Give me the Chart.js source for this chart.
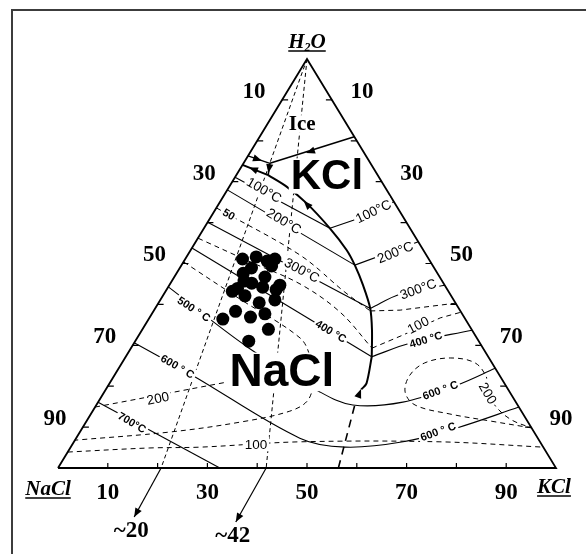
<!DOCTYPE html>
<html>
<head>
<meta charset="utf-8">
<script src="https://cdn.jsdelivr.net/npm/chart.js"></script>
<style>
  html, body { margin: 0; padding: 0; background: #fff; }
  #wrap { position: relative; width: 586px; height: 554px; overflow: hidden; }
  #frame { position: absolute; left: 11px; top: 9px; width: 600px; height: 600px;
           border-top: 2px solid #3c3c3c; border-left: 2px solid #3c3c3c; }
  canvas { position: absolute; left: 0; top: 0; }
</style>
</head>
<body>
<div id="wrap"><div id="frame"></div><canvas id="chart" width="586" height="554"></canvas></div>
<script>
// Every composition is a pair [KCl wt%, H2O wt%]; NaCl makes up the rest.
const triangle = [[0, 0], [100, 0], [0, 100], [0, 0]];
const edgeTicks = [10, 20, 30, 40, 50, 60, 70, 80, 90];
const edgeLabels = [10, 30, 50, 70, 90];

// Phase boundaries
const iceKcl = [[19.0, 81.0], [5.3, 74.5]];
const iceHydrohalite = [[0, 76.3], [5.3, 74.5]];
const hydrohaliteKcl = [[5.3, 74.5], [6.4, 71.6]];
const hydrohaliteHalite = [[0, 74.1], [6.4, 71.6]];
const haliteKcl = [[6.4, 71.6], [11.5, 68.8], [17.6, 64.7], [25.3, 58.6], [31.3, 53.3],
                   [34.8, 49.6], [38.9, 44.7], [43.2, 39.0], [46.2, 33.7], [49.4, 27.2]];
const haliteKclHigh = [[49.4, 27.2], [51.6, 20.7], [51.3, 19.2]];
const haliteKclMetastable = [[56.3, 0], [51.9, 15.4]];

// Isotherms (halite field / sylvite field)
const iso100Hal = [[0, 71.1], [25.3, 58.6]];
const iso100Syl = [[25.3, 58.6], [29.0, 60.6], [34.9, 65.1]];
const iso200Hal = [[0, 68.0], [34.8, 49.6]];
const iso200Syl = [[34.8, 49.6], [44.7, 55.3]];
const iso300Hal = [[0, 60.1], [43.2, 39.0]];
const iso300Syl = [[43.2, 39.0], [47.4, 42.5], [55.3, 44.7]];
const iso400Hal = [[0, 53.8], [49.4, 27.2]];
const iso400Syl = [[49.4, 27.2], [55.4, 30.5], [66.3, 33.7]];
const iso500 = [[0, 44.3], [23.2, 29.6], [43.3, 18.6], [51.5, 15.4], [61.2, 16.1], [70.0, 20.3], [75.6, 24.4]];
const iso600 = [[0, 30.6], [15.6, 22.7], [44.9, 7.3], [55.1, 5.1], [66.1, 6.4], [75.2, 9.8], [85.1, 14.9]];
const iso700 = [[0, 16.1], [32.5, 0]];

// Dashed isopleths
const dash50Hal = [[0, 63.6], [22.5, 52.1], [36.1, 43.0], [43.5, 38.4]];
const dash50Syl = [[43.5, 38.4], [49.4, 38.6], [59.7, 40.3]];
const dash100Hal = [[0, 56.2], [13.4, 50.4], [26.1, 45.0], [37.6, 38.1], [48.4, 29.3]];
const dash100Syl = [[48.4, 29.3], [53.0, 32.5], [58.4, 36.7], [61.9, 38.1]];
const dashLoopHal = [[0, 50.4], [15.9, 41.3], [32.7, 31.8], [37.1, 27.1], [40.5, 21.5], [41.9, 16.6],
                     [39.6, 13.9], [30.9, 11.2], [18.1, 8.8], [0, 6.8]];
const dash200Hal = [[0, 14.9], [23.4, 21.0]];
const dash100Low = [[0, 3.9], [16.0, 4.9], [26.0, 5.1], [45.4, 6.4], [73.5, 6.4], [94.9, 5.1]];
const dash200Syl = [[90.2, 9.8], [81.0, 11.5], [72.1, 13.2], [64.0, 15.4], [60.4, 18.6], [59.3, 22.7],
                    [60.8, 25.7], [65.3, 26.9], [70.9, 25.7], [75.1, 22.0], [77.2, 18.3], [80.8, 14.7],
                    [85.3, 11.7], [90.2, 9.8]];

// Constant KCl/(NaCl+KCl) rays from the H2O apex
const rayA = [[0, 100], [20.7, 0]];
const rayB = [[0, 100], [41.8, 0]];
const rayAEnd = [[20.7, 0], [21.3, -12.0]];
const rayBEnd = [[41.8, 0], [42.3, -13.2]];
const rayTexts = ['~20', '~42'];

// Inclusion compositions
const inclusions = [[11.5, 51.1], [14.0, 51.6], [16.7, 50.6], [18.0, 51.1], [18.2, 49.4], [14.4, 48.9],
                    [13.4, 47.6], [14.5, 45.7], [18.2, 46.7], [16.3, 45.2], [22.2, 44.7], [22.0, 43.6],
                    [19.0, 44.2], [14.1, 43.9], [13.4, 43.2], [16.5, 42.1], [23.0, 41.1], [20.2, 40.4],
                    [16.5, 38.3], [22.7, 37.7], [20.2, 36.9], [14.9, 36.4], [25.3, 33.9], [22.8, 31.0]];

// Direction arrows along boundaries: [from, tip]
const arrowPairs = [
  [[19.0, 81.0], [11.3, 77.0]],
  [[0, 76.3], [3.4, 75.1]],
  [[5.3, 74.5], [6.2, 72.1]],
  [[6.4, 71.6], [1.6, 73.5]],
  [[25.3, 58.6], [16.7, 65.3]],
  [[51.9, 15.4], [51.2, 19.3]],
  [[20.7, 0], [21.3, -12.0]],
  [[41.8, 0], [42.3, -13.2]]
];

// Contour labels
const contourTexts = ['100°C', '200°C', '50', '300°C', '400 °C', '500 ° C', '600 ° C', '700°C', '200', '100',
                      '100°C', '200°C', '300°C', '100', '400 °C', '600 ° C', '600 ° C', '200'];
const contourAnchors = [[7.4, 68.0], [15.2, 60.4], [3.3, 62.1], [24.8, 48.4], [38.1, 33.5], [7.9, 38.9],
                        [11.6, 24.9], [9.3, 11.2], [11.5, 17.1], [36.8, 5.9],
                        [31.9, 62.8], [41.3, 52.8], [50.4, 43.8], [54.8, 35.0], [58.1, 31.5],
                        [67.2, 19.1], [71.8, 9.0], [77.2, 18.3]];
const contourAngles = [30, 31, 30, 28, 31, 33, 30, 30, -12, 0, -25, -22, -20, -27, -17, -20, -20, 60];
const contourSmall = [false, false, true, false, true, true, true, true, false, false,
                      false, false, false, false, true, true, true, false];

const fieldTexts = ['KCl', 'NaCl', 'Ice'];
const fieldAnchors = [[18.3, 71.4], [33.2, 23.5], [7.0, 84.1]];

const toXY = ([k, w]) => ({ x: k + w / 2, y: w });

function lineSet(points, extra) {
  return Object.assign({
    data: points.map(toXY), showLine: true, pointRadius: 0, pointHoverRadius: 0,
    borderColor: '#000', borderWidth: 1.1, fill: false, tension: 0, clip: false, order: 2
  }, extra);
}
const dashed = { borderDash: [5, 4], borderWidth: 1 };
const smooth = { tension: 0.35 };

const datasets = [
  lineSet(triangle, { borderWidth: 1.8 }),
  lineSet(iceKcl, { borderWidth: 1.6 }),
  lineSet(iceHydrohalite, { borderWidth: 1.4 }),
  lineSet(hydrohaliteKcl, { borderWidth: 1.6 }),
  lineSet(hydrohaliteHalite, { borderWidth: 2 }),
  lineSet(haliteKcl, { borderWidth: 2, tension: 0.3 }),
  lineSet(haliteKclHigh, { borderWidth: 2, tension: 0.3 }),
  lineSet(haliteKclMetastable, { borderWidth: 1.6, borderDash: [8, 6] }),
  lineSet(iso100Hal), lineSet(iso100Syl), lineSet(iso200Hal), lineSet(iso200Syl),
  lineSet(iso300Hal), lineSet(iso300Syl, smooth), lineSet(iso400Hal), lineSet(iso400Syl, smooth),
  lineSet(iso500, smooth), lineSet(iso600, smooth), lineSet(iso700),
  lineSet(dash50Hal, Object.assign({}, dashed, smooth)), lineSet(dash50Syl, dashed),
  lineSet(dash100Hal, Object.assign({}, dashed, smooth)), lineSet(dash100Syl, dashed),
  lineSet(dashLoopHal, Object.assign({}, dashed, smooth)), lineSet(dash200Hal, dashed),
  lineSet(dash100Low, Object.assign({}, dashed, smooth)), lineSet(dash200Syl, Object.assign({}, dashed, smooth)),
  lineSet(rayA, { borderDash: [4, 3], borderWidth: 1 }), lineSet(rayB, { borderDash: [4, 3], borderWidth: 1 }),
  lineSet(rayAEnd, { borderWidth: 1.2 }), lineSet(rayBEnd, { borderWidth: 1.2 })
];
const DOTS_INDEX = datasets.length;
datasets.push({
  data: inclusions.map(toXY), showLine: false, pointRadius: 6.5, pointHoverRadius: 6.5,
  pointBackgroundColor: '#000', pointBorderColor: '#000', pointBorderWidth: 0, clip: false, order: 0
});

function drawAnnotations(chart) {
  const ctx = chart.ctx, xs = chart.scales.x, ys = chart.scales.y;
  const P = ([k, w]) => ({ x: xs.getPixelForValue(k + w / 2), y: ys.getPixelForValue(w) });
  ctx.save();
  ctx.strokeStyle = '#000';
  ctx.fillStyle = '#000';
  ctx.setLineDash([]);

  // edge ticks
  ctx.lineWidth = 1.2;
  edgeTicks.forEach(v => {
    const b = P([v, 0]), l = P([0, v]), r = P([100 - v, v]);
    ctx.beginPath();
    ctx.moveTo(b.x, b.y); ctx.lineTo(b.x, b.y - 5);
    ctx.moveTo(l.x, l.y); ctx.lineTo(l.x + 6, l.y);
    ctx.moveTo(r.x, r.y); ctx.lineTo(r.x - 6, r.y);
    ctx.stroke();
  });

  // edge labels
  ctx.font = "bold 23px 'Liberation Serif'";
  ctx.textAlign = 'center';
  ctx.textBaseline = 'middle';
  edgeLabels.forEach(v => {
    const b = P([v, 0]), l = P([0, 100 - v]), r = P([v, 100 - v]);
    ctx.fillText(String(v), b.x, b.y + 25);
    ctx.fillText(String(v), l.x - 28, l.y - 8);
    ctx.fillText(String(v), r.x + 30, r.y - 8);
  });

  // contour labels on white
  contourTexts.forEach((t, i) => {
    const p = P(contourAnchors[i]);
    const size = contourSmall[i] ? 11 : 13.5;
    ctx.save();
    ctx.translate(p.x, p.y);
    ctx.rotate(contourAngles[i] * Math.PI / 180);
    ctx.font = (contourSmall[i] ? 'bold ' : '') + size + "px 'Liberation Sans'";
    const w = ctx.measureText(t).width;
    ctx.fillStyle = '#fff';
    ctx.fillRect(-w / 2 - 2, -size * 0.55, w + 4, size * 1.1);
    ctx.fillStyle = '#000';
    ctx.fillText(t, 0, 1);
    ctx.restore();
  });

  // field names
  const fieldFonts = ["bold 42px 'Liberation Sans'", "bold 46px 'Liberation Sans'", "bold 21px 'Liberation Serif'"];
  fieldTexts.forEach((t, i) => {
    const p = P(fieldAnchors[i]);
    ctx.font = fieldFonts[i];
    const w = ctx.measureText(t).width;
    const h = parseFloat(fieldFonts[i].split(' ')[1]);
    ctx.fillStyle = '#fff';
    ctx.fillRect(p.x - w / 2 - 2, p.y - h * 0.42, w + 4, h * 0.84);
    ctx.fillStyle = '#000';
    ctx.fillText(t, p.x, p.y + 1);
  });

  // arrowheads
  arrowPairs.forEach(([from, tip]) => {
    const a = P(from), b = P(tip);
    const ang = Math.atan2(b.y - a.y, b.x - a.x);
    const len = 9, half = 3.6;
    ctx.beginPath();
    ctx.moveTo(b.x, b.y);
    ctx.lineTo(b.x - len * Math.cos(ang) + half * Math.sin(ang), b.y - len * Math.sin(ang) - half * Math.cos(ang));
    ctx.lineTo(b.x - len * Math.cos(ang) - half * Math.sin(ang), b.y - len * Math.sin(ang) + half * Math.cos(ang));
    ctx.closePath();
    ctx.fill();
  });

  // ray end labels
  ctx.font = "bold 23px 'Liberation Serif'";
  [rayAEnd, rayBEnd].forEach((seg, i) => {
    const tip = P(seg[1]);
    ctx.fillText(rayTexts[i], tip.x - 3, tip.y + 14);
  });

  // vertex names (italic, underlined)
  const vFont = "italic bold 21px 'Liberation Serif'";
  const subFont = "italic bold 12px 'Liberation Serif'";
  function underlined(parts, cx, cy) {
    let total = 0;
    parts.forEach(pt => { ctx.font = pt.sub ? subFont : vFont; pt.w = ctx.measureText(pt.s).width; total += pt.w; });
    let x = cx - total / 2;
    ctx.textAlign = 'left';
    ctx.textBaseline = 'alphabetic';
    parts.forEach(pt => {
      ctx.font = pt.sub ? subFont : vFont;
      ctx.fillText(pt.s, x, cy + (pt.sub ? 3 : 0));
      x += pt.w;
    });
    ctx.lineWidth = 1.6;
    ctx.beginPath();
    ctx.moveTo(cx - total / 2, cy + 3);
    ctx.lineTo(cx + total / 2, cy + 3);
    ctx.stroke();
    ctx.textAlign = 'center';
    ctx.textBaseline = 'middle';
  }
  const apex = P([0, 100]), naV = P([0, 0]), kV = P([100, 0]);
  underlined([{ s: 'H' }, { s: '2', sub: true }, { s: 'O' }], apex.x, apex.y - 11);
  underlined([{ s: 'NaCl' }], naV.x - 10, naV.y + 27);
  underlined([{ s: 'KCl' }], kV.x - 2, kV.y + 25);

  ctx.restore();
}

const annotations = {
  id: 'phaseAnnotations',
  beforeDatasetDraw(chart, args) {
    if (args.index === DOTS_INDEX) drawAnnotations(chart);
  }
};

new Chart(document.getElementById('chart'), {
  type: 'scatter',
  data: { datasets },
  options: {
    responsive: false,
    animation: false,
    events: [],
    layout: { padding: { left: 58, right: 30, top: 59, bottom: 86 } },
    scales: {
      x: { type: 'linear', min: 0, max: 100, display: false },
      y: { type: 'linear', min: 0, max: 100, display: false }
    },
    plugins: { legend: { display: false }, tooltip: { enabled: false } }
  },
  plugins: [annotations]
});
</script>
</body>
</html>
